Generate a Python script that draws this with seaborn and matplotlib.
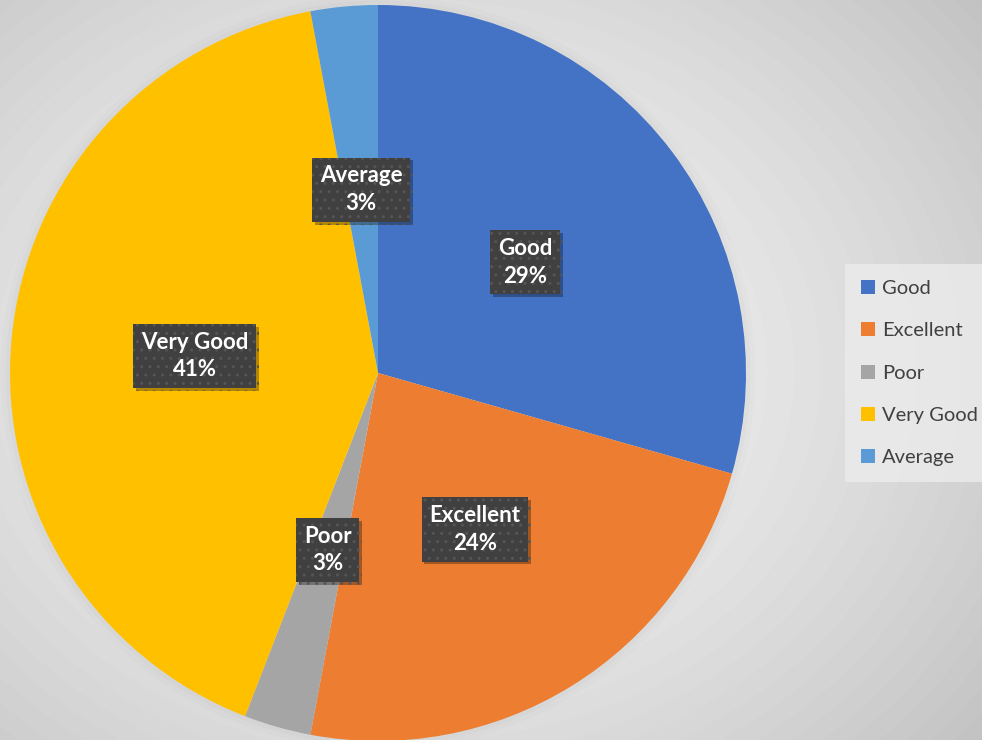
import numpy as np
import matplotlib.pyplot as plt
import matplotlib.patheffects as pe
from matplotlib.patches import Circle
import seaborn as sns

# data
categories = ['Good', 'Excellent', 'Poor', 'Very Good', 'Average']
counts = [20, 16, 2, 28, 2]
colors = ['#4472C4', '#ED7D31', '#A5A5A5', '#FFC000', '#5B9BD5']

sns.set_theme(style='white')
plt.rcParams['font.family'] = ['Lato', 'DejaVu Sans']

fig = plt.figure(figsize=(9.82, 7.4), dpi=100)

# background radial gradient
bg = fig.add_axes([0, 0, 1, 1])
yy, xx = np.mgrid[0:740, 0:982]
d = np.sqrt(((xx - 420) / 560.0) ** 2 + ((yy - 370) / 460.0) ** 2)
shade = 0.955 - 0.13 * np.clip(d, 0, 1.3) ** 1.6
bg.imshow(shade, cmap='gray', vmin=0, vmax=1, aspect='auto', extent=[0, 1, 0, 1])
bg.set_axis_off()

ax = fig.add_axes([10 / 982, -1 / 740, 736 / 982, 736 / 740])

wedges, texts, autotexts = ax.pie(
    counts, colors=colors, startangle=90, counterclock=False,
    autopct='%1.0f%%', pctdistance=0.5, radius=1.0,
    wedgeprops=dict(linewidth=0),
)
ax.set_xlim(-1, 1)
ax.set_ylim(-1, 1)
ax.set_aspect('equal')
ax.set_axis_off()

# soft glow around pie
for r, a in [(1.025, 0.03), (1.012, 0.04)]:
    ax.add_patch(Circle((0, 0), r, facecolor='#8a8a8a', edgecolor='none',
                        alpha=a, zorder=0, clip_on=False))

for t, name in zip(autotexts, categories):
    t.set_text(f'{name}\n{t.get_text()}')
    t.set_color('white')
    t.set_fontsize(16)
    t.set_fontweight('bold')
    t.set_linespacing(1.4)
    t.set_bbox(dict(boxstyle='square,pad=0.35', facecolor='#404040',
                    edgecolor='#555555', linewidth=0, hatch='..'))
    t.get_bbox_patch().set_path_effects([
        pe.SimplePatchShadow(offset=(2, -2), shadow_rgbFace='#000000', alpha=0.3),
        pe.Normal()])

leg = fig.legend(wedges, categories, loc='upper left',
                 bbox_to_anchor=(851 / 982, 1 - 270 / 740),
                 frameon=True, fontsize=14.5, labelspacing=1.25,
                 handlelength=0.7, handleheight=0.7, handletextpad=0.35,
                 borderpad=0.5, borderaxespad=0)
leg.get_frame().set_facecolor('#ececec')
leg.get_frame().set_edgecolor('none')
leg.get_frame().set_boxstyle('square')
for txt in leg.get_texts():
    txt.set_color('#404040')

fig.savefig('out.png', dpi=100)
